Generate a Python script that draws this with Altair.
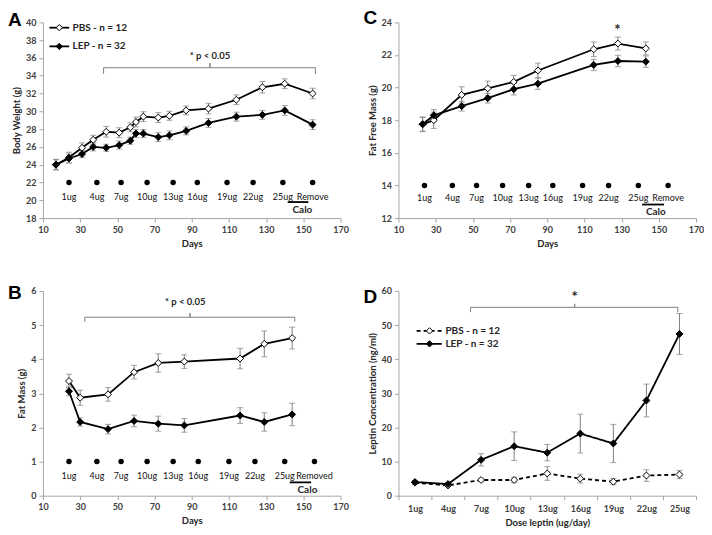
import json
import altair as alt
import pandas as pd

FONT = "Lato"
LETTER_FONT = "Liberation Sans"
GRAY = "#7f7f7f"
AXIS_GRAY = "#a6a6a6"
TXT = "#262626"

W = 298
H_TOP = 196
H_BOT = 205

# ---------------- Panel A : body weight ----------------
a_days = [17, 24, 31, 37, 44, 51, 57, 60, 64, 72, 78, 87, 99, 114, 128, 140, 155]
a_pbs = [24.0, 24.8, 25.9, 26.8, 27.7, 27.6, 28.2, 28.8, 29.4, 29.3, 29.5, 30.1, 30.3, 31.3, 32.7, 33.1, 32.0]
a_pbs_err = [0.6, 0.6, 0.55, 0.5, 0.6, 0.55, 0.5, 0.55, 0.55, 0.55, 0.5, 0.5, 0.6, 0.55, 0.65, 0.55, 0.6]
a_lep = [24.0, 24.7, 25.2, 26.0, 25.9, 26.2, 26.7, 27.5, 27.5, 27.1, 27.3, 27.8, 28.7, 29.4, 29.6, 30.1, 28.5]
a_lep_err = [0.55, 0.5, 0.4, 0.45, 0.4, 0.45, 0.4, 0.45, 0.45, 0.5, 0.5, 0.45, 0.5, 0.5, 0.5, 0.55, 0.55]

# ---------------- Panel C : fat free mass ----------------
c_days = [23, 29, 44, 58, 72, 85, 115, 128, 143]
c_pbs = [17.75, 18.0, 19.55, 19.95, 20.35, 21.05, 22.35, 22.7, 22.4]
c_pbs_err = [0.45, 0.5, 0.5, 0.45, 0.4, 0.45, 0.45, 0.4, 0.4]
c_lep = [17.75, 18.3, 18.86, 19.35, 19.9, 20.24, 21.39, 21.63, 21.59]
c_lep_err = [0.42, 0.35, 0.3, 0.3, 0.35, 0.35, 0.35, 0.35, 0.35]

# ---------------- Panel B : fat mass ----------------
b_days = [24, 30, 45, 59, 72, 86, 116, 129, 144]
b_pbs = [3.36, 2.87, 2.97, 3.62, 3.89, 3.93, 4.02, 4.45, 4.62]
b_pbs_err = [0.2, 0.22, 0.2, 0.2, 0.27, 0.2, 0.3, 0.38, 0.32]
b_lep = [3.06, 2.16, 1.95, 2.19, 2.11, 2.06, 2.35, 2.16, 2.38]
b_lep_err = [0.13, 0.12, 0.14, 0.17, 0.22, 0.2, 0.23, 0.27, 0.33]

# ---------------- Panel D : leptin ----------------
d_cats = ["1ug", "4ug", "7ug", "10ug", "13ug", "16ug", "19ug", "22ug", "25ug"]
d_pbs = [3.8, 3.0, 4.6, 4.6, 6.5, 5.0, 4.1, 5.9, 6.2]
d_pbs_err = [0.5, 0.3, 0.5, 0.8, 2.0, 1.3, 0.9, 1.7, 1.2]
d_lep = [4.0, 3.4, 10.5, 14.5, 12.6, 18.2, 15.3, 27.9, 47.4]
d_lep_err = [0.4, 0.4, 1.8, 4.2, 2.4, 5.7, 5.6, 4.8, 6.0]

# dosing schedule annotations
dose_days = [24, 39, 52, 66, 80, 93, 109, 123, 139, 155]
dose_days_b = [24, 39, 52, 66, 80, 93.5, 110, 124, 140, 156]
dose_labels = ["1ug", "4ug", "7ug", "10ug", "13ug", "16ug", "19ug", "22ug", "25ug", "Remove"]
dose_labels_b = ["1ug", "4ug", "7ug", "10ug", "13ug", "16ug", "19ug", "22ug", "25ug", "Removed"]

legend_labels = ["PBS - n = 12", "LEP - n = 32"]
groups = ["PBS", "LEP"]


def long_df(xs, pbs, pbs_err, lep, lep_err):
    rows = []
    for g, vals, errs in (("PBS", pbs, pbs_err), ("LEP", lep, lep_err)):
        for x, v, e in zip(xs, vals, errs):
            rows.append({"x": x, "y": v, "lo": v - e, "hi": v + e, "group": g})
    return pd.DataFrame(rows)


fill_scale = alt.Scale(domain=groups, range=["white", "black"])
dash_scale = alt.Scale(domain=groups, range=[[4, 3], [1, 0]])


def make_panel(xs, xa, xtitle, ys, ya, ytitle, xpos, pbs, pbs_err, lep, lep_err,
               ann, letter, letter_y, width, height, dashed=False):
    X = lambda f: alt.X(f, type="quantitative", scale=xs, axis=xa, title=xtitle)
    Y = lambda f: alt.Y(f, type="quantitative", scale=ys, axis=ya, title=ytitle)
    df = long_df(xpos, pbs, pbs_err, lep, lep_err)
    base = alt.Chart(df)
    layers = []
    layers.append(base.mark_rule(color=GRAY, strokeWidth=1).encode(x=X("x"), y=Y("lo"), y2="hi"))
    layers.append(base.mark_tick(orient="horizontal", size=6, thickness=1, color=GRAY).encode(x=X("x"), y=Y("lo")))
    layers.append(base.mark_tick(orient="horizontal", size=6, thickness=1, color=GRAY).encode(x=X("x"), y=Y("hi")))
    line_enc = dict(x=X("x"), y=Y("y"), detail="group:N")
    if dashed:
        line_enc["strokeDash"] = alt.StrokeDash("group:N", scale=dash_scale, legend=None)
    layers.append(base.mark_line(color="black", strokeWidth=1.8).encode(**line_enc))
    layers.append(base.mark_point(shape="diamond", filled=True, size=48, stroke="black",
                                  strokeWidth=1, opacity=1).encode(
        x=X("x"), y=Y("y"), fill=alt.Fill("group:N", scale=fill_scale, legend=None)))

    if "dose" in ann:
        dx, dy, labels, ly = ann["dose"]
        ddf = pd.DataFrame({"x": dx, "y": [dy] * len(dx), "ly": [ly] * len(dx), "t": labels})
        layers.append(alt.Chart(ddf).mark_circle(size=30, color="black", opacity=1).encode(x=X("x"), y=Y("y")))
        layers.append(alt.Chart(ddf).mark_text(font=FONT, fontSize=9, color="#111111", baseline="middle").encode(
            x=X("x"), y=Y("ly"), text="t:N"))
    if "calo" in ann:
        x1, x2, by, tx, ty = ann["calo"]
        cdf = pd.DataFrame({"x": [x1], "x2": [x2], "y": [by]})
        layers.append(alt.Chart(cdf).mark_rule(color="black", strokeWidth=1.8).encode(x=X("x"), x2="x2", y=Y("y")))
        tdf = pd.DataFrame({"x": [tx], "y": [ty], "t": ["Calo"]})
        layers.append(alt.Chart(tdf).mark_text(font=FONT, fontSize=10, fontWeight="bold", color=TXT,
                                               baseline="middle").encode(x=X("x"), y=Y("y"), text="t:N"))
    if "bracket" in ann:
        x1, x2, ybar, yend, xmid, ytop = ann["bracket"]
        bdf = pd.DataFrame({"x": [x1, x1, xmid, xmid, xmid, x2, x2],
                            "y": [yend, ybar, ybar, ytop, ybar, ybar, yend],
                            "o": list(range(7))})
        layers.append(alt.Chart(bdf).mark_line(color=GRAY, strokeWidth=1).encode(x=X("x"), y=Y("y"), order="o:Q"))
    if "note" in ann:
        tx, ty, txt, size = ann["note"]
        ndf = pd.DataFrame({"x": [tx], "y": [ty], "t": [txt]})
        layers.append(alt.Chart(ndf).mark_text(font=FONT, fontSize=size, fontWeight="bold", color=TXT,
                                               baseline="middle").encode(x=X("x"), y=Y("y"), text="t:N"))
    if "legend" in ann:
        lx1, lx2, lmx, ltx, lys = ann["legend"]
        ldf = pd.DataFrame({"x": [lx1, lx1], "x2": [lx2, lx2], "mx": [lmx, lmx], "tx": [ltx, ltx],
                            "y": lys, "group": groups, "t": legend_labels})
        rule_enc = dict(x=X("x"), x2="x2", y=Y("y"))
        if dashed:
            rule_enc["strokeDash"] = alt.StrokeDash("group:N", scale=dash_scale, legend=None)
        layers.append(alt.Chart(ldf).mark_rule(color="black", strokeWidth=1.8).encode(**rule_enc))
        layers.append(alt.Chart(ldf).mark_point(shape="diamond", filled=True, size=40, stroke="black",
                                                strokeWidth=1, opacity=1).encode(
            x=X("mx"), y=Y("y"), fill=alt.Fill("group:N", scale=fill_scale, legend=None)))
        layers.append(alt.Chart(ldf).mark_text(font=FONT, fontSize=10, fontWeight="bold", color=TXT,
                                               align="left", baseline="middle", dx=2).encode(
            x=X("tx"), y=Y("y"), text="t:N"))

    ltr = pd.DataFrame({"t": [letter]})
    layers.append(alt.Chart(ltr).mark_text(font=LETTER_FONT, fontSize=19, fontWeight="bold", color="black",
                                           align="left", baseline="alphabetic").encode(
        x=alt.value(-35), y=alt.value(letter_y), text="t:N"))
    return alt.layer(*layers).properties(width=width, height=height)


days_scale = alt.Scale(domain=[10, 170], nice=False, zero=False)
days_axis = alt.Axis(values=list(range(10, 171, 20)))

panel_a = make_panel(
    days_scale, days_axis, "Days",
    alt.Scale(domain=[18, 40], nice=False, zero=False), alt.Axis(values=list(range(18, 41, 2))), "Body Weight (g)",
    a_days, a_pbs, a_pbs_err, a_lep, a_lep_err,
    {"dose": (dose_days, 22, dose_labels, 20.4),
     "calo": (141.6, 152.7, 19.8, 149.5, 18.9),
     "bracket": (42.6, 156.5, 34.9, 34.2, 99.8, 35.4),
     "note": (99.8, 36.2, "* p < 0.05", 9.5),
     "legend": (13.5, 24.1, 18.8, 24.8, [39.4, 37.3])},
    "A", 4, W, H_TOP)

panel_c = make_panel(
    days_scale, days_axis, "Days",
    alt.Scale(domain=[12, 24], nice=False, zero=False), alt.Axis(values=list(range(12, 25, 2))), "Fat Free Mass (g)",
    c_days, c_pbs, c_pbs_err, c_lep, c_lep_err,
    {"dose": (dose_days, 14, dose_labels, 13.2),
     "calo": (141.0, 152.8, 12.83, 148.4, 12.4),
     "note": (127.8, 23.55, "*", 15)},
    "C", 2, W, H_TOP)

panel_b = make_panel(
    days_scale, days_axis, "Days",
    alt.Scale(domain=[0, 6], nice=False, zero=False), alt.Axis(values=list(range(0, 7))), "Fat Mass (g)",
    b_days, b_pbs, b_pbs_err, b_lep, b_lep_err,
    {"dose": (dose_days_b, 1, dose_labels_b, 0.58),
     "calo": (142.7, 154.2, 0.39, 152.2, 0.165),
     "bracket": (32.5, 145.4, 5.23, 5.1, 89.1, 5.35),
     "note": (86.5, 5.69, "* p < 0.05", 9.5)},
    "B", 8, W, H_BOT)

d_pos = [i + 1 for i in range(len(d_cats))]
d_tick_values = [0.5 + 0.5 * i for i in range(2 * len(d_cats) + 1)]
d_label_expr = "datum.value % 1 === 0 ? " + json.dumps(d_cats) + "[datum.value - 1] : ''"
d_axis = alt.Axis(values=d_tick_values, labelExpr=d_label_expr, labelPadding=5, titlePadding=4,
                  tickOpacity={"condition": {"test": "datum.value % 1 === 0", "value": 0}, "value": 1})

panel_d = make_panel(
    alt.Scale(domain=[0.5, 9.5], nice=False, zero=False), d_axis, "Dose leptin (ug/day)",
    alt.Scale(domain=[0, 60], nice=False, zero=False), alt.Axis(values=list(range(0, 61, 10))),
    "Leptin Concentration (ng/ml)",
    d_pos, d_pbs, d_pbs_err, d_lep, d_lep_err,
    {"bracket": (2.68, 8.95, 55.2, 53.8, 5.83, 56.2),
     "note": (5.83, 58.2, "*", 15),
     "legend": (1.05, 1.81, 1.44, 1.86, [48.3, 44.5])},
    "D", 12, W, H_BOT, dashed=True)

chart = alt.concat(panel_a, panel_c, panel_b, panel_d, columns=2,
                   spacing={"row": 36, "column": 15}).properties(
    padding={"left": 0, "right": 0, "top": 1, "bottom": 0}
).configure_view(stroke=None).configure_axis(
    grid=False, domainColor=AXIS_GRAY, tickColor=AXIS_GRAY, tickSize=4,
    labelFont=FONT, labelFontSize=9, labelFontWeight="bold", labelColor="#404040",
    labelFlush=False, labelOverlap=False, labelPadding=3,
    titleFont=FONT, titleFontSize=9.5, titleFontWeight="bold", titleColor=TXT,
)

chart.save("out.html", embed_options={"renderer": "svg", "actions": False})
